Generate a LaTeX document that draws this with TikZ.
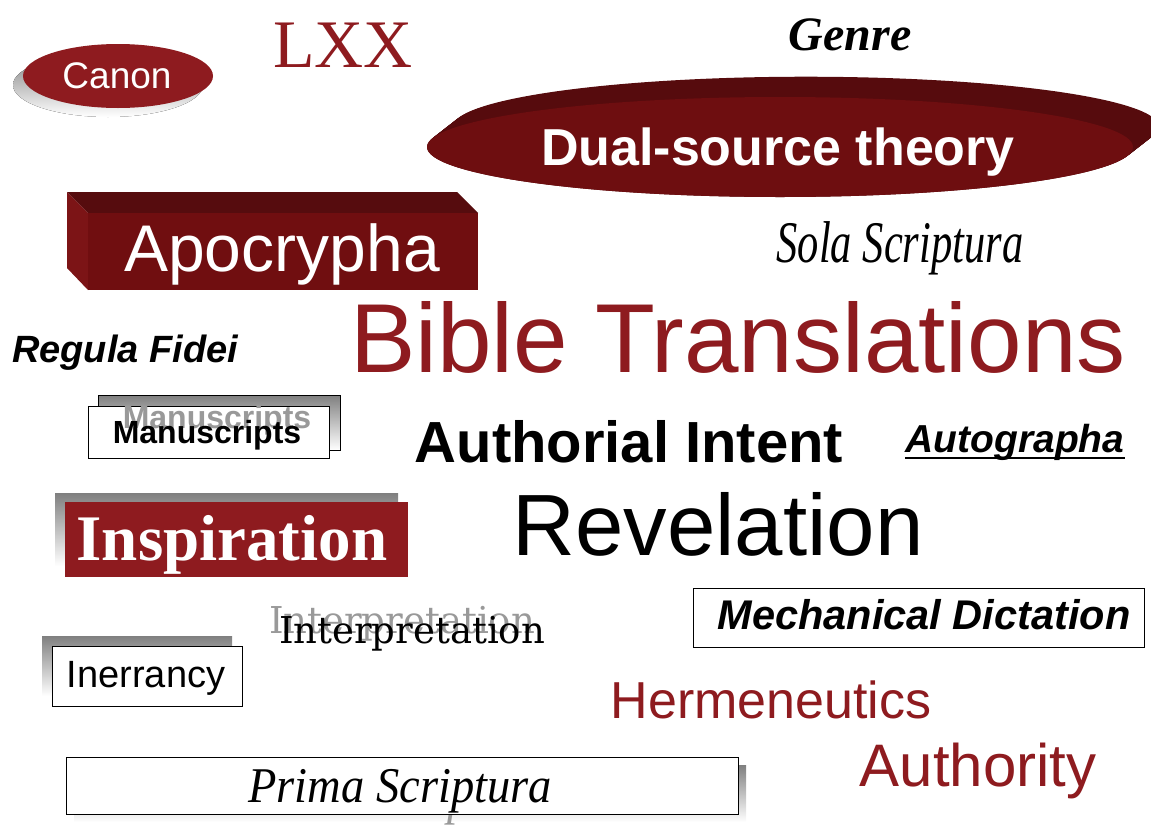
\documentclass[tikz,border=0pt]{standalone}
\usepackage{fontspec}
\setmainfont{Liberation Sans}
\newfontfamily\timesf{Liberation Serif}
\newfontfamily\dvserif{DejaVu Serif}
\definecolor{brick}{HTML}{8E1B1F}
\definecolor{dualfront}{HTML}{6E0E10}
\definecolor{dualback}{HTML}{560B0D}
\definecolor{apfront}{HTML}{700E10}
\definecolor{aptop}{HTML}{560C0E}
\definecolor{apleft}{HTML}{7C1416}
\definecolor{shade}{HTML}{BEBEBE}
\definecolor{ghost}{HTML}{999999}
\newcommand{\fs}[1]{\fontsize{#1}{#1}\selectfont}
\begin{document}
\begin{tikzpicture}[x=1pt,y=-1pt,
  txt/.style={inner sep=0pt, anchor=base},
  boxed/.style={draw=black, fill=white, line width=1pt}]
\useasboundingbox (0,0) rectangle (1151,825);

% Canon
\fill[shade] (108,85) ellipse [x radius=95pt, y radius=32pt];
\fill[brick] (118,76) ellipse [x radius=95pt, y radius=32pt];
\node[txt, white, font=\fs{37}] (canon) at (117,88) {Canon};

% LXX
\node[txt, brick, font=\timesf\fs{68}] (lxx) at (343,67) {LXX};

% Genre
\node[txt, font=\timesf\bfseries\itshape\fs{48}] (genre) at (850,50) {Genre};

% Dual-source theory
\foreach \i in {0,1,...,26} {
  \fill[dualback] ({780+\i},{147-0.78*\i}) ellipse [x radius=353pt, y radius=50pt];
}
\fill[dualfront] (780,147) ellipse [x radius=353pt, y radius=50pt];
\node[txt, white, font=\bfseries\fs{52}] (dual) at (778,165) {Dual-source theory};

% Apocrypha
\fill[aptop] (67,192) -- (457,192) -- (478,213) -- (88,213) -- cycle;
\fill[apleft] (67,192) -- (88,213) -- (88,290) -- (67,268) -- cycle;
\fill[apfront] (88,213) rectangle (478,290);
\node[txt, white, font=\fs{66}] (apoc) at (282,271) {Apocrypha};

% Sola Scriptura
\node[txt, xscale=0.72, font=\timesf\itshape\fs{59}] (sola) at (900,262) {Sola Scriptura};

% Regula Fidei
\node[txt, font=\bfseries\itshape\fs{38}] (regula) at (125,362) {Regula Fidei};

% Bible Translations
\node[txt, brick, font=\fs{98}] (bible) at (738,372) {Bible Translations};

% Manuscripts
\draw[shade, line width=1pt] (98,395) rectangle (340,450);
\draw[boxed] (88,406) rectangle (329,458);
\node[txt, ghost, font=\bfseries\fs{32}] (manug) at (217,428) {Manuscripts};
\node[txt, font=\bfseries\fs{32}] (manu) at (207,443) {Manuscripts};

% Authorial Intent
\node[txt, font=\bfseries\fs{58}] (intent) at (629,462) {Authorial Intent};

% Autographa
\node[txt, font=\bfseries\itshape\fs{39}] (autog) at (1015,452) {Autographa};
\draw[line width=2pt] ([yshift=-6pt]autog.base west) -- ([yshift=-6pt]autog.base east);

% Revelation
\node[txt, font=\fs{87}] (revel) at (718,555) {Revelation};

% Inspiration
\fill[shade] (55,493) rectangle (398,566);
\fill[brick] (65,502) rectangle (408,577);
\node[txt, white, font=\timesf\bfseries\fs{65}] (inspi) at (232,560) {Inspiration};

% Interpretation
\node[txt, ghost, font=\dvserif\fs{37}] (interg) at (402,633) {Interpretation};
\node[txt, font=\dvserif\fs{37}] (inter) at (412,643) {Interpretation};

% Mechanical Dictation
\draw[boxed] (693,588) rectangle (1144,647);
\node[txt, font=\bfseries\itshape\fs{41.5}] (mech) at (924,629) {Mechanical Dictation};

% Inerrancy
\fill[shade] (42,636) rectangle (232,696);
\draw[boxed] (52,646) rectangle (242,706);
\node[txt, font=\fs{38}] (inerr) at (146,687) {Inerrancy};

% Hermeneutics
\node[txt, brick, font=\fs{52}] (herm) at (771,718) {Hermeneutics};

% Authority
\node[txt, brick, font=\fs{60}] (auth) at (978,786) {Authority};

% Prima Scriptura
\fill[shade] (74,765) rectangle (746,822);
\node[txt, xscale=0.93, ghost, font=\timesf\itshape\fs{50}] (primag) at (396,814) {Prima Scriptura};
\draw[boxed] (66,757) rectangle (738,814);
\node[txt, xscale=0.93, font=\timesf\itshape\fs{50}] (prima) at (400,802) {Prima Scriptura};
\end{tikzpicture}
\end{document}
